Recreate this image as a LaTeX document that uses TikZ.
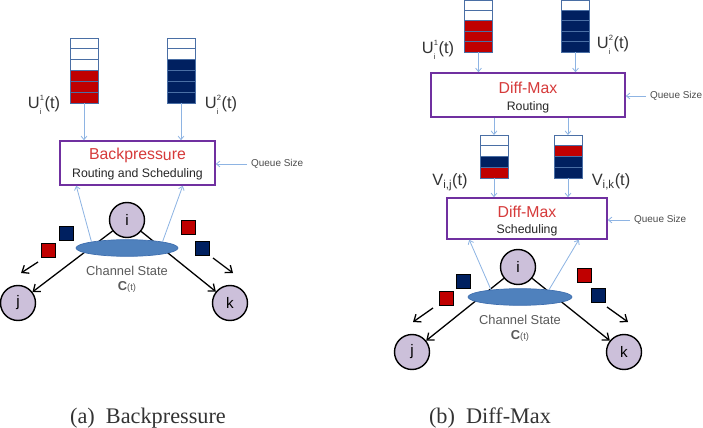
\documentclass[tikz,border=0pt]{standalone}
\usepackage{fontspec}
\setmainfont{Liberation Sans}
\newfontfamily\capfont{Liberation Serif}
\usetikzlibrary{arrows.meta,shapes.geometric}

\definecolor{qred}{HTML}{C00000}
\definecolor{qnavy}{HTML}{002060}
\definecolor{qedge}{HTML}{4A6FA5}
\definecolor{boxpurple}{HTML}{7030A0}
\definecolor{lightarr}{HTML}{8EB4E3}
\definecolor{nodefill}{HTML}{CCC0DA}
\definecolor{chanfill}{HTML}{4F81BD}
\definecolor{chanedge}{HTML}{3F6FAF}
\definecolor{titlered}{HTML}{D63A3A}

% queue: name, centre x, bottom y, cell height, colours from the bottom
\newcommand{\queue}[5]{%
  \coordinate (#1) at (#2,#3);
  \foreach \c [count=\n] in {#5}
  {
    \draw[cell, fill=\c] (#2-14,#3-\n*#4+#4) rectangle (#2+14,#3-\n*#4);
    \coordinate (#1-top) at (#2,#3-\n*#4);
  }
}
% U with index i below and commodity above
\newcommand{\ulabel}[1]{U\rlap{\raisebox{-5pt}{\fontsize{6.5}{7}\selectfont i}}\raisebox{7pt}{\fontsize{6.5}{7}\selectfont #1}\kern0.5pt(t)}
\newcommand{\chstate}{Channel State\\{\bfseries C}{\fontsize{8}{9}\selectfont(t)}}

\begin{document}
\begin{tikzpicture}[x=0.03cm, y=-0.03cm,
  cell/.style={draw=qedge, line width=0.8pt},
  policy/.style={draw=boxpurple, line width=1.3pt, fill=white, inner sep=0pt},
  title/.style={text=titlered, font=\fontsize{13.5}{15}\selectfont},
  sub/.style={text=black!85, font=\fontsize{10.5}{12}\selectfont},
  feed/.style={draw=lightarr, line width=0.7pt, -{Straight Barb[length=3pt,width=5pt]}},
  vertex/.style={circle, draw=black, line width=1.2pt, fill=nodefill, minimum size=1.05cm, inner sep=0pt, font=\fontsize{13}{15}\selectfont},
  chan/.style={ellipse, draw=chanedge, fill=chanfill, line width=0.6pt, minimum height=0.5cm, inner sep=0pt},
  link/.style={draw=black, line width=1.1pt, -{Straight Barb[length=5pt,width=8pt]}},
  pkt/.style={draw=black, line width=0.5pt, minimum size=0.42cm, inner sep=0pt},
  qlabel/.style={text=black!80, font=\fontsize{14}{16}\selectfont},
  qsize/.style={text=black!70, font=\fontsize{8.5}{10}\selectfont, anchor=west},
  chtext/.style={text=black!65, font=\fontsize{11}{13}\selectfont, align=center},
  caption/.style={text=black!80, font=\capfont\fontsize{19}{22}\selectfont}]
\useasboundingbox (0,0) rectangle (703,428);

% ---------------- (a) Backpressure ----------------
% queues at node i
\queue{qa1}{84}{103}{10.83}{qred,qred,qred,white,white,white}
\queue{qa2}{181}{103}{10.83}{qnavy,qnavy,qnavy,qnavy,white,white}
\node[qlabel] (ua1) at (44,105) {\ulabel{1}};
\node[qlabel] (ua2) at (221,105) {\ulabel{2}};

% policy box
\node[policy, minimum width=4.65cm, minimum height=1.32cm] (bp) at (137.5,163) {};
\node[title] (bpt) at (137.5,155) {Backpress\raisebox{-1.5pt}{u}re};
\node[sub] (bps) at (137.5,174) {Routing and Scheduling};
\draw[feed] (qa1) -- (qa1 |- bp.north);
\draw[feed] (qa2) -- (qa2 |- bp.north);
\node[qsize] (qsa) at (247,164) {Queue Size};
\draw[feed] (qsa.west) -- (qsa.west -| bp.east);

% network
\node[vertex] (ia) at (127,220) {i};
\node[vertex] (ja) at (18,303) {j};
\node[vertex] (ka) at (230,303) {k};
\draw[link] (ia) -- (ja);
\draw[link] (ia) -- (ka);
\node[chan, minimum width=3.06cm] (cha) at (127,248) {};
\node[chtext] (csa) at (127,279) {\chstate};
\draw[feed] (cha.170) -- ([xshift=0.51cm]bp.south west);
\draw[feed] (cha.10) -- ([xshift=-0.99cm]bp.south east);

% packets on the links
\node[pkt, fill=qnavy] (pa1) at (66,233) {};
\node[pkt, fill=qred] (pa2) at (48,250) {};
\node[pkt, fill=qred] (pa3) at (188,227) {};
\node[pkt, fill=qnavy] (pa4) at (202,248) {};
\coordinate (da1) at (38,262);
\coordinate (da2) at (21,273);
\coordinate (da3) at (213,258);
\coordinate (da4) at (233,273);
\draw[link] (da1) -- (da2);
\draw[link] (da3) -- (da4);

% ---------------- (b) Diff-Max ----------------
% per-commodity queues
\queue{qb1}{478.5}{52}{10.4}{qred,qred,qred,white,white}
\queue{qb2}{575.5}{52}{10.4}{qnavy,qnavy,qnavy,qnavy,white}
\node[qlabel] (ub1) at (438,50) {\ulabel{1}};
\node[qlabel] (ub2) at (613,45) {\ulabel{2}};

% routing box
\node[policy, minimum width=5.82cm, minimum height=1.32cm] (rt) at (528,95) {};
\node[title] (rtt) at (528,88) {Diff-Max};
\node[sub] (rts) at (528,107) {Routing};
\draw[feed] (qb1) -- (qb1 |- rt.north);
\draw[feed] (qb2) -- (qb2 |- rt.north);
\node[qsize] (qsb) at (646,96) {Queue Size};
\draw[feed] (qsb.west) -- (qsb.west -| rt.east);

% per-link queues
\queue{vb1}{494}{178}{10.75}{qred,qnavy,white,white}
\queue{vb2}{568}{178}{10.75}{qnavy,qnavy,qred,white}
\node[qlabel] (vl1) at (450,182) {V\textsubscript{i,j}(t)};
\node[qlabel] (vl2) at (611,182) {V\textsubscript{i,k}(t)};
\draw[feed] (vb1-top |- rt.south) -- (vb1-top);
\draw[feed] (vb2-top |- rt.south) -- (vb2-top);

% scheduling box
\node[policy, minimum width=4.8cm, minimum height=1.23cm] (sc) at (527,218.5) {};
\node[title] (sct) at (527,212) {Diff-Max};
\node[sub] (scs) at (527,230) {Scheduling};
\draw[feed] (vb1) -- (vb1 |- sc.north);
\draw[feed] (vb2) -- (vb2 |- sc.north);
\node[qsize] (qsc) at (630,220) {Queue Size};
\draw[feed] (qsc.west) -- (qsc.west -| sc.east);

% network
\node[vertex] (ib) at (518,267) {i};
\node[vertex] (jb) at (412,352) {j};
\node[vertex] (kb) at (624,352) {k};
\draw[link] (ib) -- (jb);
\draw[link] (ib) -- (kb);
\node[chan, minimum width=3.12cm] (chb) at (520,297) {};
\node[chtext] (csb) at (520,328) {\chstate};
\draw[feed] (chb.166) -- ([xshift=0.69cm]sc.south west);
\draw[feed] (chb.14) -- ([xshift=-0.87cm]sc.south east);

% packets on the links
\node[pkt, fill=qnavy] (pb1) at (463,281) {};
\node[pkt, fill=qred] (pb2) at (446,298) {};
\node[pkt, fill=qred] (pb3) at (584,275) {};
\node[pkt, fill=qnavy] (pb4) at (598,295) {};
\coordinate (db1) at (433,308);
\coordinate (db2) at (413,322);
\coordinate (db3) at (607,307);
\coordinate (db4) at (628,322);
\draw[link] (db1) -- (db2);
\draw[link] (db3) -- (db4);

% captions
\node[caption] (capa) at (148,418) {(a)\ \ Backpressure};
\node[caption] (capb) at (490,418) {(b)\ \ Diff-Max};
\end{tikzpicture}
\end{document}
